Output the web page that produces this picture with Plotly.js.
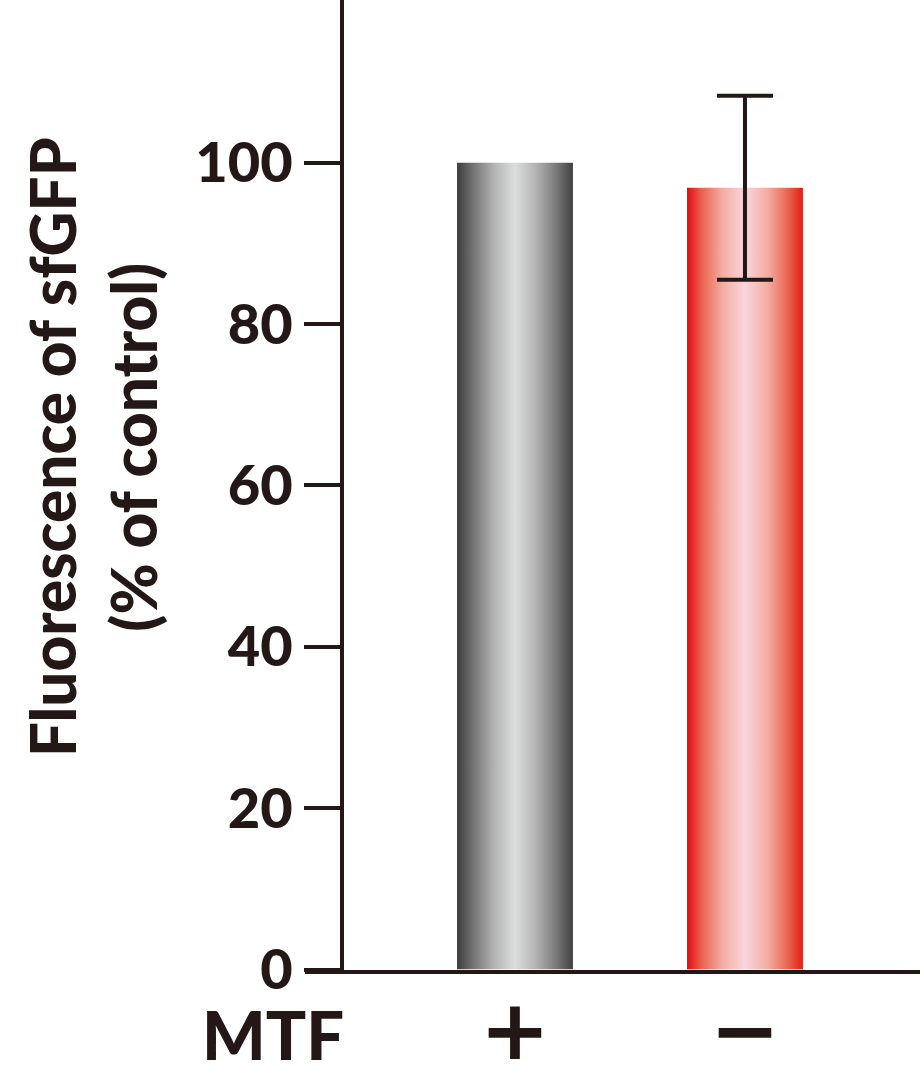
<!DOCTYPE html>
<html>
<head>
<meta charset="utf-8">
<script src="https://cdn.plot.ly/plotly-3.0.1.min.js"></script>
<style>
  html, body { margin: 0; padding: 0; background: #fff; }
  #chart { width: 923px; height: 1067px; }
</style>
</head>
<body>
<div id="chart"></div>
<script>
// ---- data ----
const categories = ['+', '\u2212'];          // MTF present / absent
const values = [100, 96.9];                   // fluorescence, % of control
const errors = [null, 11.4];                  // error bar (only for MTF-)
const yTicks = [0, 20, 40, 60, 80, 100];
const yTickLabels = ['0', '20', '40', '60', '80', '100'];

// ---- styles ----
const INK = '#231815';
const FONT = 'Lato, "Open Sans", "Noto Sans", sans-serif';
const SIGN_FONT = '"DejaVu Sans", Lato, sans-serif';
const gradients = [
  [[0, '#3d3d3d'], [0.15, '#777777'], [0.32, '#b3b3b3'], [0.5, '#dcdedd'], [0.68, '#b3b3b3'], [0.85, '#7b7b7b'], [1, '#414141']],
  [[0, '#e50a14'], [0.12, '#ea5d4a'], [0.3, '#f3aca2'], [0.5, '#f9d6dd'], [0.7, '#f3aca0'], [0.88, '#e9604b'], [1, '#e41d14']]
];
const fallbackColors = ['#aaaaaa', '#f0a0a0'];

const W = 923, H = 1067;
const data = categories.map((c, i) => {
  const t = {
    type: 'bar',
    x: [c],
    y: [values[i]],
    width: 0.504,
    marker: { color: fallbackColors[i], line: { width: 0 } },
    hoverinfo: 'skip'
  };
  if (errors[i] != null) {
    t.error_y = { type: 'data', array: [errors[i]], visible: true, color: INK, thickness: 4, width: 28 };
  }
  return t;
});

const layout = {
  width: W, height: H,
  margin: { l: 0, r: 0, t: 0, b: 0 },
  paper_bgcolor: '#ffffff',
  plot_bgcolor: 'rgba(0,0,0,0)',
  showlegend: false,
  barmode: 'overlay',
  font: { family: FONT, color: INK },
  xaxis: {
    type: 'category',
    domain: [305 / W, 920 / W],
    range: [-0.913, 1.761],
    showline: true, linecolor: INK, linewidth: 4,
    showgrid: false, zeroline: false,
    ticks: '',
    tickfont: { family: SIGN_FONT, size: 84, weight: 700, color: INK },
    ticklabelstandoff: -15,
    fixedrange: true
  },
  yaxis: {
    anchor: 'free',
    position: 342 / W,
    domain: [97.5 / H, 1],
    range: [0, 120.16],
    showline: true, linecolor: INK, linewidth: 4,
    showgrid: false, zeroline: false,
    ticks: 'outside', ticklen: 36, tickwidth: 4, tickcolor: INK,
    tickvals: yTicks, ticktext: yTickLabels,
    tickfont: { family: FONT, size: 56, weight: 900, color: INK },
    ticklabelstandoff: 0,
    fixedrange: true
  },
  annotations: [
    {
      xref: 'paper', yref: 'paper',
      x: 92 / W, y: (H - 447) / H,
      xanchor: 'center', yanchor: 'middle',
      textangle: -90,
      showarrow: false,
      text: 'Fluorescence of sfGFP<br>(% of control)',
      font: { family: FONT, size: 62, weight: 900, color: INK },
      align: 'center'
    },
    {
      xref: 'paper', yref: 'paper',
      x: 273 / W, y: (H - 1034) / H,
      xanchor: 'center', yanchor: 'middle',
      showarrow: false,
      text: 'MTF',
      font: { family: FONT, size: 67, weight: 900, color: INK }
    }
  ]
};

const gd = document.getElementById('chart');
Plotly.newPlot(gd, data, layout, { staticPlot: true, displayModeBar: false }).then(() => {
  const svg = gd.querySelector('svg.main-svg');
  const ns = 'http://www.w3.org/2000/svg';
  let defs = svg.querySelector('defs');
  if (!defs) { defs = document.createElementNS(ns, 'defs'); svg.insertBefore(defs, svg.firstChild); }
  gradients.forEach((stops, i) => {
    const g = document.createElementNS(ns, 'linearGradient');
    g.setAttribute('id', 'barGrad' + i);
    g.setAttribute('x1', '0'); g.setAttribute('y1', '0');
    g.setAttribute('x2', '1'); g.setAttribute('y2', '0');
    stops.forEach(([o, c]) => {
      const s = document.createElementNS(ns, 'stop');
      s.setAttribute('offset', o);
      s.setAttribute('stop-color', c);
      g.appendChild(s);
    });
    defs.appendChild(g);
  });
  gd.querySelectorAll('.barlayer .trace').forEach((tr, i) => {
    tr.querySelectorAll('.point path').forEach(p => { p.style.fill = 'url(#barGrad' + i + ')'; });
  });
});
</script>
</body>
</html>
